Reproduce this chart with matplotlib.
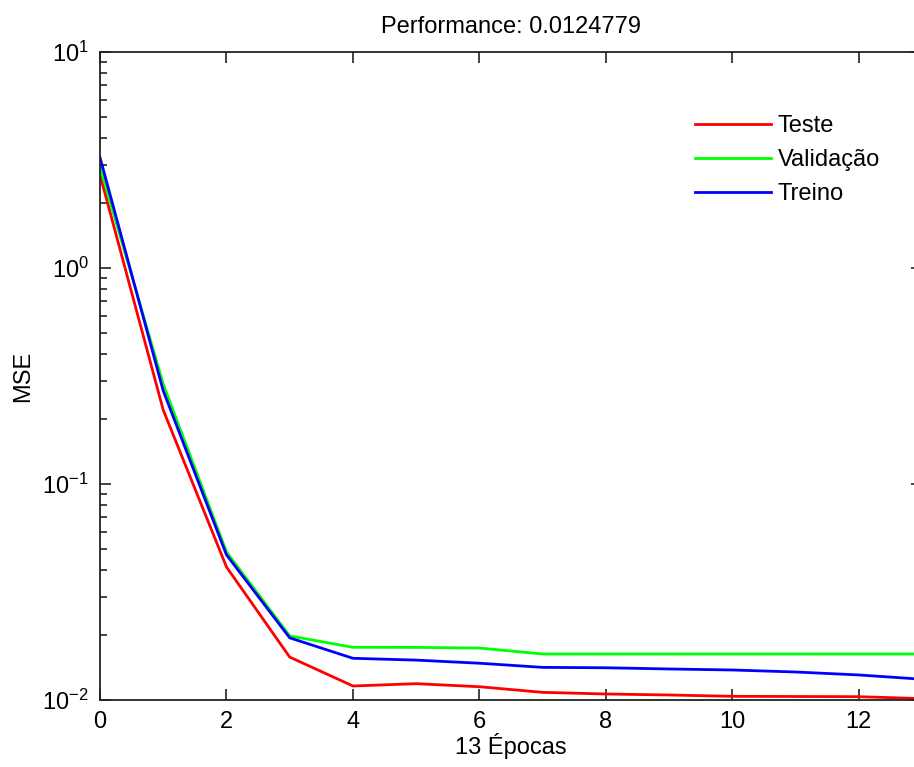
import matplotlib

matplotlib.use("Agg")
import matplotlib.pyplot as plt  # noqa: E402
from matplotlib.ticker import LogLocator  # noqa: E402

plt.rcParams["font.family"] = ["Liberation Sans", "DejaVu Sans"]
plt.rcParams["mathtext.default"] = "regular"
plt.rcParams["axes.unicode_minus"] = False

# MSE per epoch
epochs = list(range(14))
teste = [2.70, 0.22, 0.0413, 0.0158, 0.01161, 0.0119, 0.01152, 0.01085,
         0.01066, 0.01055, 0.01040, 0.01038, 0.01036, 0.01015]
validacao = [2.94, 0.29, 0.0485, 0.0198, 0.01754, 0.01752, 0.0174, 0.01633,
             0.01633, 0.01633, 0.01633, 0.01633, 0.01633, 0.01633]
treino = [3.25, 0.27, 0.0470, 0.0194, 0.0156, 0.0153, 0.0148, 0.01416,
          0.0141, 0.01392, 0.01377, 0.01348, 0.01306, 0.0124779]
xticks = [0, 2, 4, 6, 8, 10, 12]

fs = 17
fig = plt.figure(figsize=(9.14, 7.67), dpi=100)
ax = fig.add_axes([100 / 914, 67 / 767, 822 / 914, 648 / 767])

ax.plot(epochs, teste, color="#ff0000", lw=2, label="Teste")
ax.plot(epochs, validacao, color="#00ff00", lw=2, label="Validação")
ax.plot(epochs, treino, color="#0000ff", lw=2, label="Treino")

ax.set_yscale("log")
ax.set_xlim(0, 13)
ax.set_ylim(1e-2, 1e1)
ax.set_xticks(xticks)
ax.yaxis.set_minor_locator(LogLocator(base=10, subs=range(2, 10)))
ax.tick_params(which="both", direction="in", top=True, right=True,
               labelsize=fs, color="#222222", width=1.2)
ax.tick_params(which="major", length=8, pad=8)
ax.tick_params(which="minor", length=5)
for sp in ax.spines.values():
    sp.set_color("#222222")
    sp.set_linewidth(1.3)

ax.set_title("Performance: 0.0124779", fontsize=fs, pad=14)
ax.set_xlabel("13 Épocas", fontsize=fs, labelpad=0)
ax.set_ylabel("MSE", fontsize=fs, labelpad=6)

leg = ax.legend(loc="upper right", frameon=False, fontsize=fs,
                handlelength=3.2, handletextpad=0.3, labelspacing=0.5,
                bbox_to_anchor=(0.975, 0.935))

fig.savefig("out.png", dpi=100)
